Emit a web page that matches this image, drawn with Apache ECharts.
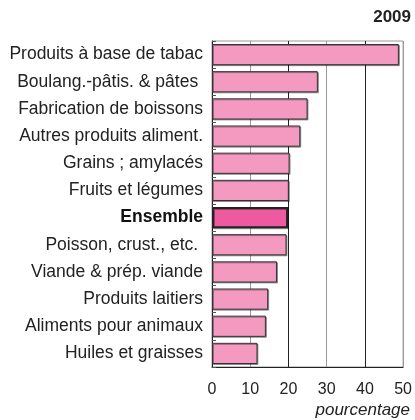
<!DOCTYPE html>
<html><head><meta charset="utf-8">
<script src="https://cdn.jsdelivr.net/npm/echarts@6/dist/echarts.min.js"></script>
<style>html,body{margin:0;padding:0;background:#fff}#c{width:415px;height:420px}</style>
</head><body><div id="c"></div>
<script>
const categories = ["Produits à base de tabac","Boulang.-pâtis. & pâtes ","Fabrication de boissons","Autres produits aliment.","Grains ; amylacés","Fruits et légumes","Ensemble","Poisson, crust., etc. ","Viande & prép. viande","Produits laitiers","Aliments pour animaux","Huiles et graisses"];
const values = [48.9, 27.7, 25.0, 23.1, 20.3, 20.1, 19.9, 19.5, 17.0, 14.7, 14.1, 11.9];
const highlight = "Ensemble";
const xTicks = [0, 10, 20, 30, 40, 50];
const title = "2009";
const xName = "pourcentage";

const chart = echarts.init(document.getElementById('c'), null, {renderer:'canvas'});
const font = "Liberation Sans";
chart.setOption({
  animation:false,
  title:{text:title, right:4, top:9, padding:0, textStyle:{fontFamily:font, fontSize:17, fontWeight:'bold', color:'#222'}},
  graphic:[{type:'text', right:5, top:402, style:{text:xName, fontFamily:font, fontStyle:'italic', fontSize:17, fill:'#222'}}],
  grid:{left:212, right:5, top:41, bottom:53, show:true, borderColor:'#999', borderWidth:1},
  xAxis:{type:'value', min:xTicks[0], max:xTicks[xTicks.length-1], interval:10,
    axisLine:{show:true, lineStyle:{color:'#222', width:1}}, axisTick:{show:false},
    axisLabel:{fontFamily:font, fontSize:16, color:'#222', margin:15},
    splitLine:{show:true, lineStyle:{color:['#222','#999'], width:1}}},
  yAxis:{type:'category', data:categories, inverse:true,
    axisLine:{show:true, lineStyle:{color:'#222', width:1}},
    axisTick:{show:true, inside:true, length:4, lineStyle:{color:'#555'}},
    axisLabel:{fontFamily:font, fontSize:17.5, color:'#222', margin:9,
      formatter:v=> v===highlight ? '{b|'+v+'}' : v,
      rich:{b:{fontFamily:font, fontSize:17.5, fontWeight:'bold', color:'#111'}}}},
  series:[{type:'bar', barCategoryGap:'22%',
    data: values.map((v,i)=>({value:v, itemStyle: categories[i]===highlight ?
      {color:'#ee5a9f', borderColor:'#222', borderWidth:2} :
      {color:'#f49ac1', borderColor:'#333', borderWidth:1}})),
    itemStyle:{shadowColor:'rgba(0,0,0,0.35)', shadowOffsetX:1, shadowOffsetY:1, shadowBlur:0}
  }]
});
</script></body></html>
